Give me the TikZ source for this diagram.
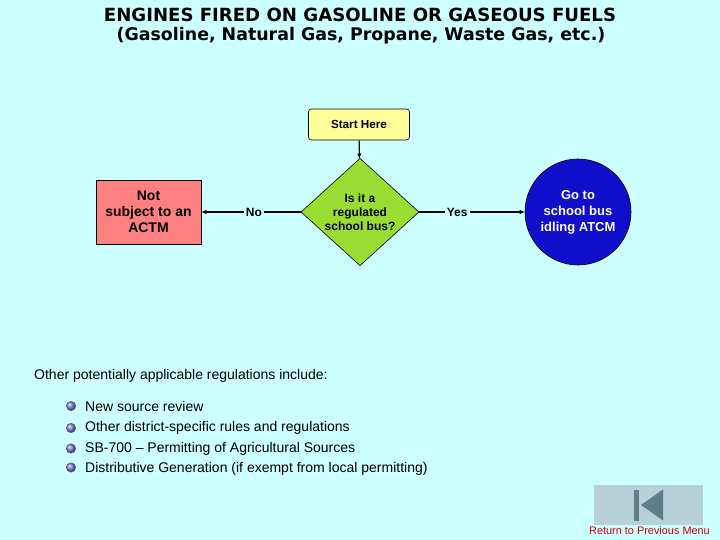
\documentclass[tikz,border=0pt]{standalone}
\usepackage{fontspec}
\setmainfont{Liberation Sans}
\newfontfamily\titlefont{DejaVu Sans}
\usetikzlibrary{shapes.geometric,arrows.meta}
\definecolor{bgc}{RGB}{204,255,255}
\definecolor{startc}{RGB}{255,255,153}
\definecolor{redc}{RGB}{255,128,128}
\definecolor{greenc}{RGB}{153,221,51}
\definecolor{bluec}{RGB}{16,16,204}
\definecolor{btnc}{RGB}{182,210,216}
\definecolor{iconc}{RGB}{95,127,134}
\definecolor{linkc}{RGB}{204,0,0}
\definecolor{bulc}{RGB}{130,130,235}
\tikzset{
  flow/.style={draw=black, line width=0.6pt},
  conn/.style={line width=1.1pt, -{Latex[length=5pt,width=4.5pt]}},
  lbl/.style={fill=bgc, inner sep=2pt, font=\bfseries\fontsize{12}{14}\selectfont},
  bul/.style={circle, draw=black!70, line width=0.3pt, ball color=bulc, minimum size=9.5pt, inner sep=0pt},
  item/.style={anchor=west, font=\fontsize{14}{16}\selectfont, inner sep=0pt},
}
\begin{document}
\begin{tikzpicture}[x=1pt,y=-1pt]
\fill[bgc] (0,0) rectangle (720,540);
\useasboundingbox (0,0) rectangle (720,540);
% title
\node (t1) at (360,15) {\titlefont\bfseries\fontsize{18.1}{20}\selectfont ENGINES FIRED ON GASOLINE OR GASEOUS FUELS};
\node (t2) at (361,36) {\titlefont\bfseries\fontsize{17.4}{20}\selectfont (Gasoline, Natural Gas, Propane, Waste Gas, etc.)};
% flow
\node[flow, fill=startc, rounded corners=3pt, minimum width=101pt, minimum height=31pt, font=\bfseries\fontsize{11.7}{13}\selectfont] (start) at (359,124.5) {Start Here};
\node[flow, fill=greenc, diamond, minimum width=118pt, minimum height=104pt, inner sep=0pt, align=center, font=\bfseries\fontsize{12}{14}\selectfont] (q) at (360,212) {Is it a\\regulated\\school bus?};
\node[flow, fill=redc, minimum width=105pt, minimum height=64pt, align=center, font=\bfseries\fontsize{14}{16}\selectfont] (no) at (148.5,212) {Not\\subject to an\\ACTM};
\node[flow, fill=bluec, circle, minimum size=106pt, align=center, text=white, font=\bfseries\fontsize{13}{16}\selectfont] (yes) at (578,212) {Go to\\school bus\\idling ATCM};
\draw[conn] (start) -- (q);
\draw[conn] (q) -- node[lbl, pos=0.47] {No} (no);
\draw[conn] (q) -- node[lbl, pos=0.36] {Yes} (yes);
% list
\node[anchor=west, inner sep=0pt, font=\fontsize{14}{16}\selectfont] (other) at (34,376) {Other potentially applicable regulations include:};
\node[bul] (b1) at (71,406) {};
\node[bul] (b2) at (71,428) {};
\node[bul] (b3) at (71,448.5) {};
\node[bul] (b4) at (71,467.5) {};
\node[item] (i1) at (85,406) {New source review};
\node[item] (i2) at (85,428) {Other district-specific rules and regulations};
\node[item] (i3) at (85,449) {SB-700 -- Permitting of Agricultural Sources};
\node[item] (i4) at (85,468.5) {Distributive Generation (if exempt from local permitting)};
% return button
\fill[btnc] (594,485) rectangle (703,525);
\fill[iconc] (634,489.5) rectangle (638.5,520.5);
\fill[iconc] (641,505) -- (663,489.5) -- (663,520.5) -- cycle;
\node[text=linkc, inner sep=0pt, font=\fontsize{10.9}{12}\selectfont] (ret) at (649.5,531) {Return to Previous Menu};
\end{tikzpicture}
\end{document}
